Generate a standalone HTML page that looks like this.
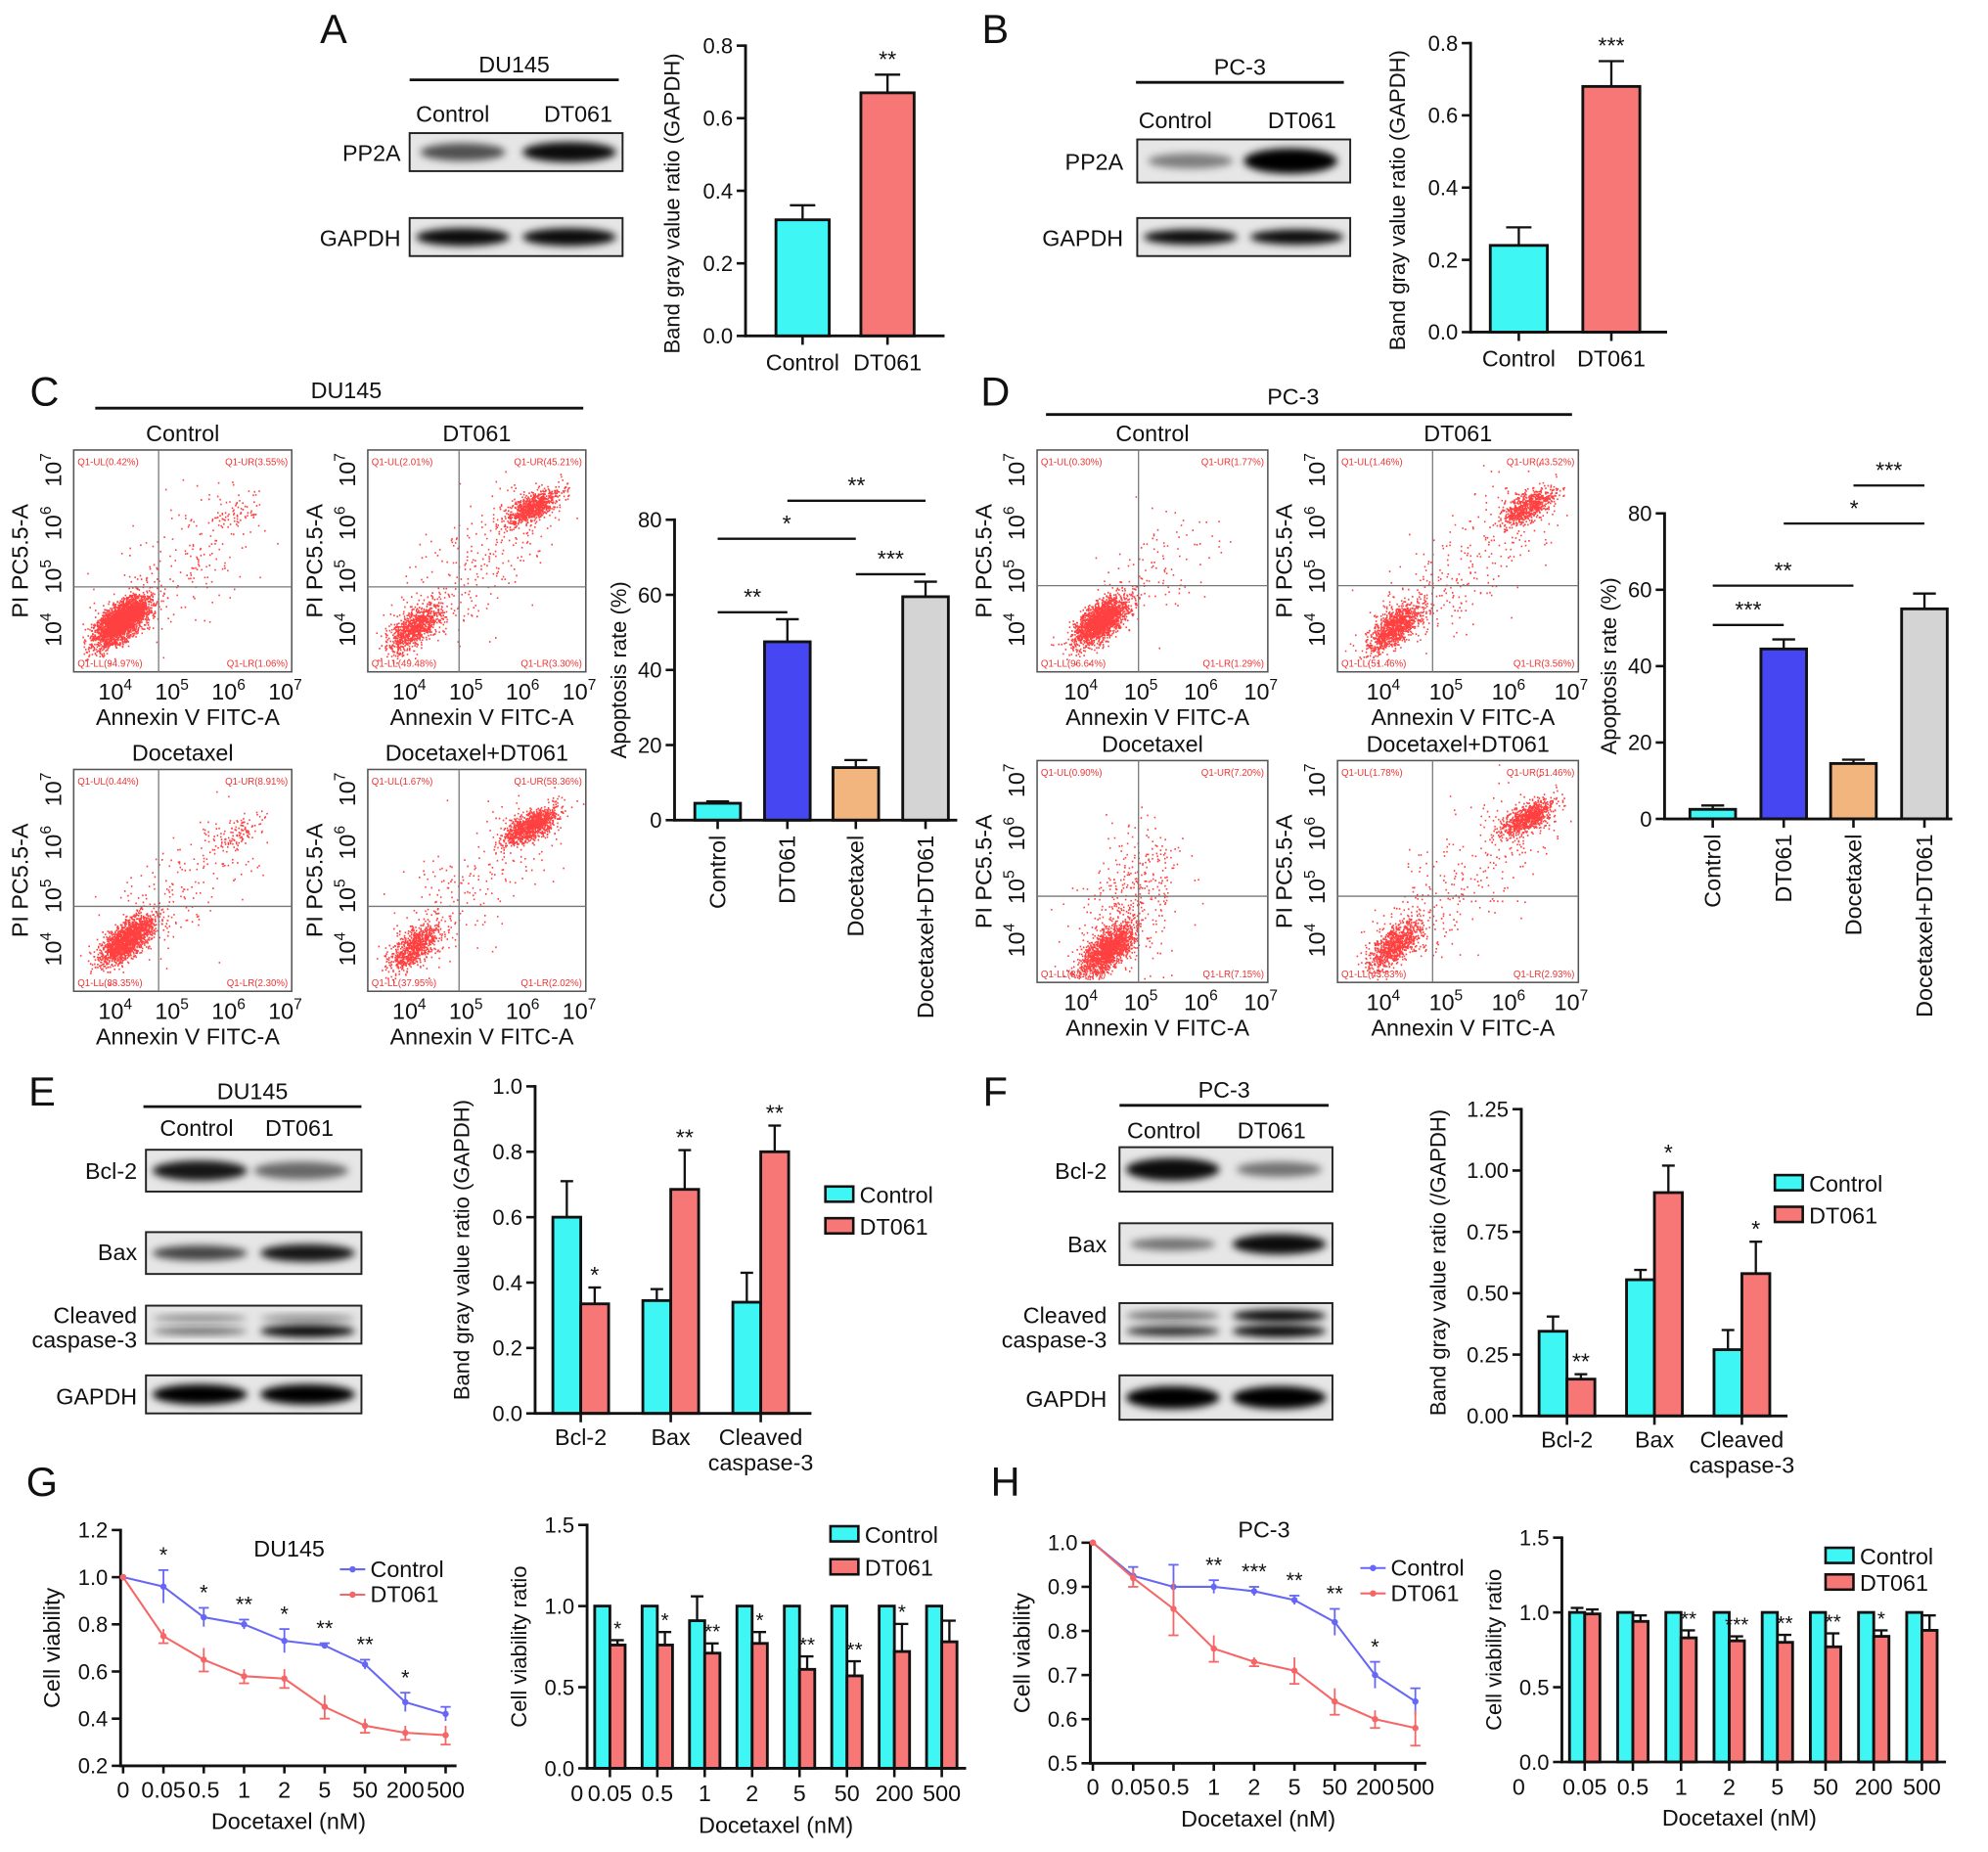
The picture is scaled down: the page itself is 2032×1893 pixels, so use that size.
<!DOCTYPE html>
<html><head><meta charset="utf-8"><style>
html,body{margin:0;padding:0;background:#fff}
svg{display:block}
text{font-family:"Liberation Sans",Arial,sans-serif;fill:#111}
</style></head><body>
<svg id="fig" xmlns="http://www.w3.org/2000/svg" width="2032" height="1893" viewBox="0 0 1568 1461">
<defs>
<filter id="blur3" x="-20%" y="-50%" width="140%" height="200%"><feGaussianBlur stdDeviation="3"/></filter>
</defs>
<g id="root"></g>
</svg>
<script>
// ---------- DATA ----------
const aCats=['Control','DT061'];
const aVals=[0.32,0.67];
const aErr=[0.04,0.05];
const aStars=['','**'];
const bVals=[0.24,0.68];
const bErr=[0.05,0.07];
const bStars=['','***'];
const cCats=['Control','DT061','Docetaxel','Docetaxel+DT061'];
const cVals=[4.5,47.5,14,59.5];
const cErr=[0.5,6,2,4];
const dVals=[2.5,44.5,14.5,55];
const dErr=[1,2.5,1,4];
const eCats=['Bcl-2','Bax','Cleaved|caspase-3'];
const eCtrl=[0.60,0.345,0.34];
const eCtrlErr=[0.11,0.035,0.09];
const eDt=[0.335,0.685,0.80];
const eDtErr=[0.05,0.12,0.08];
const eStars=['*','**','**'];
const fCtrl=[0.345,0.555,0.27];
const fCtrlErr=[0.06,0.04,0.08];
const fDt=[0.15,0.91,0.58];
const fDtErr=[0.02,0.11,0.13];
const fStars=['**','*','*'];
const doseLabels=['0','0.05','0.5','1','2','5','50','200','500'];
const gCtrl=[1.0,0.96,0.83,0.80,0.73,0.71,0.63,0.47,0.42];
const gCtrlErr=[0,0.07,0.04,0.02,0.05,0.01,0.02,0.04,0.03];
const gDt=[1.0,0.75,0.65,0.58,0.57,0.45,0.37,0.34,0.33];
const gDtErr=[0,0.03,0.05,0.03,0.04,0.05,0.03,0.03,0.04];
const gStars=['','*','*','**','*','**','**','*',''];
const gBarCtrl=[1,1,0.91,1,1,1,1,1];
const gBarCtrlErr=[0,0,0.15,0,0,0,0,0];
const gBarDt=[0.76,0.76,0.71,0.77,0.61,0.57,0.72,0.78];
const gBarDtErr=[0.03,0.08,0.06,0.07,0.08,0.09,0.17,0.13];
const gBarStars=['*','*','**','*','**','**','*',''];
const hCtrl=[1,0.925,0.90,0.90,0.89,0.87,0.82,0.70,0.64];
const hCtrlErr=[0,0.02,0.05,0.015,0.01,0.01,0.03,0.03,0.03];
const hDt=[1,0.92,0.85,0.76,0.73,0.71,0.64,0.60,0.58];
const hDtErr=[0,0.02,0.06,0.03,0.01,0.03,0.03,0.02,0.04];
const hStars=['','','','**','***','**','**','*',''];
const hBarCtrl=[1,1,1,1,1,1,1,1];
const hBarCtrlErr=[0.03,0,0,0,0,0,0,0];
const hBarDt=[0.99,0.94,0.83,0.81,0.80,0.77,0.84,0.88];
const hBarDtErr=[0.03,0.04,0.05,0.03,0.05,0.09,0.04,0.10];
const hBarStars=['','','**','***','**','**','*',''];

const CY='#3ef7f4', RD='#f77777', BL='#4646f2', OR='#f2b57d', GR='#d4d4d4';
const root=document.getElementById('root');
const NS='http://www.w3.org/2000/svg';
function el(tag,attrs,parent,txt){const e=document.createElementNS(NS,tag);for(const k in attrs)e.setAttribute(k,attrs[k]);if(txt!==undefined)e.textContent=txt;(parent||root).appendChild(e);return e;}
function grp(name,parent){const g=el('g',{},parent);return g;}
function txt(g,x,y,s,size,anchor,extra){const t=el('text',Object.assign({x:x,y:y,'font-size':size||18,'text-anchor':anchor||'middle'},extra||{}),g,s);return t;}
function line(g,x1,y1,x2,y2,w,c){return el('line',{x1,y1,x2,y2,stroke:c||'#111','stroke-width':w||2},g);}

[['A',263,34],['B',785,34],['C',35,320],['D',785,320],['E',33,872],['F',785,872],['G',33,1180],['H',793,1180]].forEach(p=>{
 const t=txt(root,p[1],p[2],p[0],32,'middle');
 
 
});

function yAxis(g,ax,y0,y1,vmin,vmax,ticks,dec,title){
 const sc=v=>y0-(v-vmin)/(vmax-vmin)*(y0-y1);
 line(g,ax,y0+1,ax,y1-1,2.2);
 ticks.forEach(t=>{const y=sc(t);line(g,ax-7,y,ax,y,2);txt(g,ax-10,y+6,t.toFixed(dec),17,'end');});
 return sc;
}
function bar(g,x,w,yv,y0,fill,name){
 const r=el('rect',{x:x,y:Math.min(yv,y0),width:w,height:Math.abs(y0-yv),fill:fill,stroke:'#111','stroke-width':2.2},g);
 
 
 return r;
}
function errUp(g,cx,yv,ye,cap,c){if(Math.abs(yv-ye)<0.5)return;line(g,cx,yv,cx,ye,1.8,c);line(g,cx-cap,ye,cx+cap,ye,1.8,c);}

function twoBar(name,ax,y0,y1,xEnd,centers,bw,vals,errs,stars,titleOff){
 const g=grp(name);
 const sc=yAxis(g,ax,y0,y1,0,0.8,[0,0.2,0.4,0.6,0.8],1);
 txt(g,ax-titleOff,(y0+y1)/2+10,'Band gray value ratio (GAPDH)',17,'middle',{transform:`rotate(-90 ${ax-titleOff} ${(y0+y1)/2+10})`});
 const fills=[CY,RD];
 vals.forEach((v,i)=>{
  const cx=centers[i];
  errUp(g,cx,sc(v),sc(v+errs[i]),10);
  bar(g,cx-bw/2,bw,sc(v),y0,fills[i],'bar-'+aCats[i].toLowerCase());
  if(stars[i])txt(g,cx,sc(v+errs[i])-6,stars[i],18);
  line(g,cx,y0,cx,y0+7,2);
  txt(g,cx,y0+27,aCats[i],18);
 });
 line(g,ax-1,y0,xEnd,y0,2.2);
}
twoBar('chart-a-pp2a-du145',588,265,36,745,[633,700],42,aVals,aErr,aStars,52);
twoBar('chart-b-pp2a-pc3',1160,262,34,1315,[1198,1271],45,bVals,bErr,bStars,52);

function apop(name,ax,y0,y1,xEnd,centers,bw,vals,errs,brackets){
 const g=grp(name);
 const sc=yAxis(g,ax,y0,y1,0,80,[0,20,40,60,80],0);
 txt(g,ax-38,(y0+y1)/2,'Apoptosis rate (%)',17,'middle',{transform:`rotate(-90 ${ax-38} ${(y0+y1)/2})`});
 const fills=[CY,BL,OR,GR];
 vals.forEach((v,i)=>{
  const cx=centers[i];
  errUp(g,cx,sc(v),sc(v+errs[i]),9);
  bar(g,cx-bw/2,bw,sc(v),y0,fills[i],'bar-'+cCats[i].toLowerCase());
  line(g,cx,y0,cx,y0+7,2);
  txt(g,cx+6,y0+12,cCats[i],18,'end',{transform:`rotate(-90 ${cx+6} ${y0+12})`});
 });
 line(g,ax-1,y0,xEnd,y0,2.2);
 brackets.forEach(b=>{line(g,centers[b[0]],b[2],centers[b[1]],b[2],1.8);txt(g,(centers[b[0]]+centers[b[1]])/2,b[2]-6,b[3],18);});
}
apop('chart-c-apoptosis-du145',532,647,410,755,[566,621,675,730],36,cVals,cErr,[[0,1,483,'**'],[2,3,453,'***'],[0,2,425,'*'],[1,3,395,'**']]);
apop('chart-d-apoptosis-pc3',1313,646,405,1540,[1351,1407,1462,1518],36,dVals,dErr,[[0,1,493,'***'],[0,2,462,'**'],[1,3,413,'*'],[2,3,383,'***']]);

function grouped(name,cfg,ctrl,ctrlErr,dt,dtErr,stars,cats){
 const g=grp(name);
 const sc=yAxis(g,cfg.ax,cfg.y0,cfg.y1,0,cfg.max,cfg.ticks,cfg.dec);
 if(cfg.title)txt(g,cfg.ax-cfg.tOff,(cfg.y0+cfg.y1)/2,cfg.title,17,'middle',{transform:`rotate(-90 ${cfg.ax-cfg.tOff} ${(cfg.y0+cfg.y1)/2})`});
 ctrl.forEach((v,i)=>{
  const cx=cfg.c0+cfg.step*i, bw=cfg.bw;
  errUp(g,cx-bw/2,sc(v),sc(v+ctrlErr[i]),5);
  errUp(g,cx+bw/2,sc(dt[i]),sc(dt[i]+dtErr[i]),5);
  bar(g,cx-bw,bw,sc(v),cfg.y0,CY,'bar-control-'+i);
  bar(g,cx,bw,sc(dt[i]),cfg.y0,RD,'bar-dt061-'+i);
  if(stars[i])txt(g,cx+bw/2,sc(dt[i]+dtErr[i])-4,stars[i],cfg.starSize||18);
  line(g,cx,cfg.y0,cx,cfg.y0+7,2);
  const parts=cats[i].split('|');
  parts.forEach((p,k)=>txt(g,cx,cfg.y0+cfg.lblOff+k*20,p,18));
 });
 line(g,cfg.ax-1,cfg.y0,cfg.xEnd,cfg.y0,2.2);
 const lg=grp('legend',g);
 [['Control',CY],['DT061',RD]].forEach((e,k)=>{
  const r=el('rect',{x:cfg.lx,y:cfg.ly+k*cfg.lsp-6,width:22,height:12,fill:e[1],stroke:'#111','stroke-width':2},lg);
  
  
  txt(lg,cfg.lx+27,cfg.ly+k*cfg.lsp+7,e[0],18,'start');
 });
 return g;
}
grouped('chart-e-bcl2-bax-du145',{ax:422,y0:1115,y1:857,max:1.0,ticks:[0,0.2,0.4,0.6,0.8,1.0],dec:1,title:'Band gray value ratio (GAPDH)',tOff:52,c0:458,step:71,bw:22,xEnd:640,lblOff:25,lx:651,ly:942,lsp:25},eCtrl,eCtrlErr,eDt,eDtErr,eStars,eCats);
grouped('chart-f-bcl2-bax-pc3',{ax:1200,y0:1117,y1:875,max:1.25,ticks:[0,0.25,0.5,0.75,1.0,1.25],dec:2,title:'Band gray value ratio (/GAPDH)',tOff:60,c0:1236,step:69,bw:22,xEnd:1410,lblOff:25,lx:1400,ly:933,lsp:25},fCtrl,fCtrlErr,fDt,fDtErr,fStars,eCats);
const gb=grouped('chart-g-viability-ratio-du145',{ax:463,y0:1395,y1:1203,max:1.5,ticks:[0,0.5,1.0,1.5],dec:1,title:'Cell viability ratio',tOff:48,c0:481,step:37.4,bw:12,xEnd:762,lblOff:26,lx:655,ly:1210,lsp:26,starSize:16},gBarCtrl,gBarCtrlErr,gBarDt,gBarDtErr,gBarStars,doseLabels.slice(1));
txt(gb,455,1421,'0',18);txt(gb,612,1446,'Docetaxel (nM)',18);
const hb=grouped('chart-h-viability-ratio-pc3',{ax:1232,y0:1390,y1:1213,max:1.5,ticks:[0,0.5,1.0,1.5],dec:1,title:'Cell viability ratio',tOff:48,c0:1250,step:38,bw:12,xEnd:1535,lblOff:26,lx:1440,ly:1227,lsp:21,starSize:16},hBarCtrl,hBarCtrlErr,hBarDt,hBarDtErr,hBarStars,doseLabels.slice(1));
txt(hb,1198,1416,'0',18);txt(hb,1372,1440,'Docetaxel (nM)',18);

function lineChart(name,cfg,ctrl,ctrlErr,dt,dtErr,stars){
 const g=grp(name);
 const sc=yAxis(g,cfg.ax,cfg.y0,cfg.y1,cfg.min,cfg.max,cfg.ticks,1);
 txt(g,cfg.ax-48,(cfg.y0+cfg.y1)/2,'Cell viability',18,'middle',{transform:`rotate(-90 ${cfg.ax-48} ${(cfg.y0+cfg.y1)/2})`});
 const xs=i=>cfg.x0+cfg.step*i;
 line(g,cfg.ax-1,cfg.y0,cfg.xEnd,cfg.y0,2.2);
 doseLabels.forEach((d,i)=>{line(g,xs(i),cfg.y0,xs(i),cfg.y0+6,2);txt(g,xs(i),cfg.y0+25,d,18);});
 txt(g,(cfg.ax+cfg.xEnd)/2,cfg.y0+50,'Docetaxel (nM)',18);
 [[ctrl,ctrlErr,'#6767f5','control'],[dt,dtErr,'#f56767','dt061']].forEach(s=>{
  const sg=grp('series-'+s[3],g);
  let d='';
  s[0].forEach((v,i)=>{d+=(i?'L':'M')+xs(i)+' '+sc(v);
   const sgn=s[3]==='control'?1:-1;
   if(s[1][i]){line(sg,xs(i),sc(v-s[1][i]),xs(i),sc(v+s[1][i]),1.4,s[2]);line(sg,xs(i)-4,sc(v+sgn*s[1][i]),xs(i)+4,sc(v+sgn*s[1][i]),1.4,s[2]);}
   el('circle',{cx:xs(i),cy:sc(v),r:2.5,fill:s[2]},sg);
  });
  el('path',{d:d,fill:'none',stroke:s[2],'stroke-width':1.6},sg);
 });
 stars.forEach((st,i)=>{if(st)txt(g,xs(i),sc(ctrl[i]+ctrlErr[i])-6,st,17);});
 txt(g,cfg.tx,cfg.ty,cfg.title,18);
 [['Control','#6767f5'],['DT061','#f56767']].forEach((e,k)=>{
  const y=cfg.ly+k*20;line(g,cfg.lx,y,cfg.lx+20,y,1.6,e[1]);el('circle',{cx:cfg.lx+10,cy:y,r:2.5,fill:e[1]},g);
  txt(g,cfg.lx+24,y+6,e[0],18,'start');
 });
}
lineChart('chart-g-viability-du145',{ax:95,y0:1393,y1:1207,min:0.2,max:1.2,ticks:[0.2,0.4,0.6,0.8,1.0,1.2],x0:97,step:31.8,xEnd:360,tx:228,ty:1228,title:'DU145',lx:268,ly:1238},gCtrl,gCtrlErr,gDt,gDtErr,gStars);
lineChart('chart-h-viability-pc3',{ax:860,y0:1391,y1:1217,min:0.5,max:1.0,ticks:[0.5,0.6,0.7,0.8,0.9,1.0],x0:862,step:31.8,xEnd:1125,tx:997,ty:1213,title:'PC-3',lx:1073,ly:1237},hCtrl,hCtrlErr,hDt,hDtErr,hStars);

function blot(g,name,x,y,w,h,bands){
 const bg=grp(name,g);
 el('rect',{x:x,y:y,width:w,height:h,fill:'#e6e6e6',stroke:'#222','stroke-width':1.5},bg);
 bands.forEach(b=>{el('ellipse',{cx:x+b[0]*w,cy:y+h/2+(b[4]||0),rx:b[1]*w,ry:b[2],fill:'#000','fill-opacity':b[3],filter:'url(#blur3)'},bg);});
}
function header(g,x1,x2,y,title,c1,c2,ly){
 line(g,x1,y,x2,y,2.2);txt(g,(x1+x2)/2,y-6,title,18);
 txt(g,c1,ly,'Control',18);txt(g,c2,ly,'DT061',18);
}
let g=grp('blot-a-du145');
header(g,323,488,63,'DU145',357,456,96);
txt(g,316,127,'PP2A',18,'end');blot(g,'blot-pp2a',323,105,168,30,[[0.25,0.2,7,0.65],[0.75,0.22,8,0.95]]);
txt(g,316,194,'GAPDH',18,'end');blot(g,'blot-gapdh',323,172,168,30,[[0.25,0.22,7,0.95],[0.75,0.22,7,0.95]]);
g=grp('blot-b-pc3');
header(g,896,1060,65,'PC-3',927,1027,101);
txt(g,886,134,'PP2A',18,'end');blot(g,'blot-pp2a',897,110,168,34,[[0.25,0.2,6,0.45],[0.72,0.22,10,1]]);
txt(g,886,194,'GAPDH',18,'end');blot(g,'blot-gapdh',897,172,168,30,[[0.25,0.22,6,0.95],[0.75,0.22,6,0.95]]);
g=grp('blot-e-du145');
header(g,113,285,873,'DU145',155,236,896);
txt(g,108,930,'Bcl-2',18,'end');blot(g,'blot-bcl2',115,907,170,33,[[0.25,0.22,8,0.9],[0.72,0.22,7,0.55]]);
txt(g,108,994,'Bax',18,'end');blot(g,'blot-bax',115,972,170,33,[[0.25,0.22,6,0.7],[0.75,0.22,7,0.9]]);
txt(g,108,1044,'Cleaved',18,'end');txt(g,108,1063,'caspase-3',18,'end');
blot(g,'blot-cleaved-caspase3',115,1030,170,30,[[0.25,0.22,3,0.4,-5],[0.25,0.22,3,0.55,5],[0.75,0.22,3,0.4,-5],[0.75,0.22,5,0.95,5]]);
txt(g,108,1108,'GAPDH',18,'end');blot(g,'blot-gapdh',115,1085,170,30,[[0.25,0.22,8,1],[0.75,0.22,8,1]]);
g=grp('blot-f-pc3');
header(g,883,1048,872,'PC-3',918,1003,898);
txt(g,873,930,'Bcl-2',18,'end');blot(g,'blot-bcl2',883,905,168,35,[[0.25,0.22,9,0.95],[0.75,0.2,6,0.5]]);
txt(g,873,988,'Bax',18,'end');blot(g,'blot-bax',883,965,168,33,[[0.25,0.2,5,0.5],[0.75,0.22,8,0.95]]);
txt(g,873,1044,'Cleaved',18,'end');txt(g,873,1063,'caspase-3',18,'end');
blot(g,'blot-cleaved-caspase3',883,1028,168,32,[[0.25,0.22,4,0.5,-6],[0.25,0.22,4,0.8,6],[0.75,0.22,5,0.95,-6],[0.75,0.22,5,0.95,6]]);
txt(g,873,1110,'GAPDH',18,'end');blot(g,'blot-gapdh',883,1085,168,35,[[0.25,0.22,9,1],[0.75,0.22,9,1]]);

let seed=12345;
function rnd(){seed=(seed*1103515245+12345)%2147483648;return seed/2147483648;}
function gauss(){let u=rnd()||1e-6,v=rnd();return Math.sqrt(-2*Math.log(u))*Math.cos(2*Math.PI*v);}
function flow(parent,name,bx,by,bw,bh,qx,qy,title,mix,cl,ur,quad){
 const g=grp(name,parent);
 el('rect',{x:bx,y:by,width:bw,height:bh,fill:'#fff',stroke:'#555','stroke-width':1.2},g);
 let d='';const N=4200;
 for(let i=0;i<N;i++){
  const r=rnd();let x,y;
  if(r<mix[0]){const a=gauss(),b=gauss();x=bx+cl[0]+a*10+b*3;y=by+cl[1]-a*8+b*5;}
  else if(r<mix[0]+mix[1]){const t=rnd();x=bx+cl[0]+(ur[0]-cl[0])*t+gauss()*18;y=by+cl[1]+(ur[1]-cl[1])*t+gauss()*18;}
  else{const a=gauss(),b=gauss();x=bx+ur[0]+a*10+b*3;y=by+ur[1]-a*6+b*4;}
  if(x<bx+2||x>bx+bw-2||y<by+2||y>by+bh-2)continue;
  d+='M'+x.toFixed(1)+' '+y.toFixed(1)+'h1.2';
 }
 el('path',{d:d,stroke:'#ff1f1f','stroke-width':1.3,'stroke-opacity':0.85,fill:'none'},g);
 line(g,bx+qx,by,bx+qx,by+bh,1,'#777');line(g,bx,by+qy,bx+bw,by+qy,1,'#777');
 txt(g,bx+3,by+12,'Q1-UL('+quad[0]+')',7.5,'start').style.fill='#e33';
 txt(g,bx+bw-3,by+12,'Q1-UR('+quad[1]+')',7.5,'end').style.fill='#e33';
 txt(g,bx+3,by+bh-4,'Q1-LL('+quad[2]+')',7.5,'start').style.fill='#e33';
 txt(g,bx+bw-3,by+bh-4,'Q1-LR('+quad[3]+')',7.5,'end').style.fill='#e33';
 txt(g,bx+bw/2,by-7,title,18);
 const xt=[0.19,0.45,0.71,0.97];
 xt.forEach((f,k)=>{const t=el('text',{x:bx+f*bw,y:by+bh+22,'font-size':18,'text-anchor':'middle'},g);t.textContent='10';const s=el('tspan',{dy:-8,'font-size':12},t);s.textContent=String(k+4);});
 const yt=[0.81,0.57,0.33,0.09];
 yt.forEach((f,k)=>{const X=bx-10,Y=by+f*bh;const t=el('text',{x:X,y:Y,'font-size':18,'text-anchor':'middle',transform:`rotate(-90 ${X} ${Y})`},g);t.textContent='10';const s=el('tspan',{dy:-8,'font-size':12},t);s.textContent=String(k+4);});
 txt(g,bx+bw/2+4,by+bh+42,'Annexin V FITC-A',18);
 const X=bx-36,Y=by+bh/2;txt(g,X,Y,'PI PC5.5-A',18,'middle',{transform:`rotate(-90 ${X} ${Y})`});
}
g=grp('flow-c-du145');
line(g,75,322,460,322,2.2);txt(g,273,314,'DU145',18);
flow(g,'flow-control',58,355,172,175,67,108,'Control',[0.92,0.06],[37,135],[130,50],['0.42%','3.55%','94.97%','1.06%']);
flow(g,'flow-dt061',290,355,172,175,72,108,'DT061',[0.45,0.15],[37,140],[130,45],['2.01%','45.21%','49.48%','3.30%']);
flow(g,'flow-docetaxel',58,607,172,175,67,108,'Docetaxel',[0.85,0.1],[42,135],[130,50],['0.44%','8.91%','88.35%','2.30%']);
flow(g,'flow-docetaxel-dt061',290,607,172,175,72,108,'Docetaxel+DT061',[0.35,0.12],[37,140],[128,45],['1.67%','58.36%','37.95%','2.02%']);
g=grp('flow-d-pc3');
line(g,825,327,1240,327,2.2);txt(g,1020,319,'PC-3',18);
flow(g,'flow-control',818,355,182,175,80,107,'Control',[0.94,0.06],[50,135],[130,60],['0.30%','1.77%','96.64%','1.29%']);
flow(g,'flow-dt061',1055,355,190,175,75,107,'DT061',[0.5,0.15],[45,140],[150,45],['1.46%','43.52%','51.46%','3.56%']);
flow(g,'flow-docetaxel',818,600,182,175,80,107,'Docetaxel',[0.8,0.2],[55,150],[90,70],['0.90%','7.20%','84.75%','7.15%']);
flow(g,'flow-docetaxel-dt061',1055,600,190,175,75,107,'Docetaxel+DT061',[0.42,0.15],[45,145],[150,45],['1.78%','51.46%','43.83%','2.93%']);
</script>
</body></html>
